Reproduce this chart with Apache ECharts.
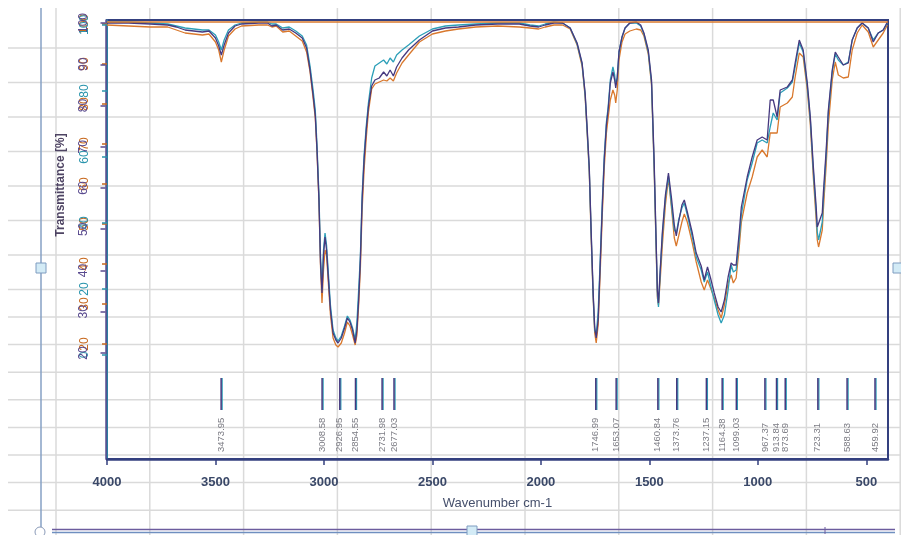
<!DOCTYPE html>
<html>
<head>
<meta charset="utf-8">
<title>FTIR spectrum</title>
<script src="https://cdn.jsdelivr.net/npm/echarts@6/dist/echarts.min.js"></script>
<style>
html, body { margin: 0; padding: 0; background: #fff; }
#chart { width: 901px; height: 535px; }
</style>
</head>
<body>
<div id="chart"></div>
<script>
// spectra (wavenumber in cm-1, transmittance in %)
var wavenumbers = [
    4000, 3900, 3800, 3720, 3680, 3640, 3600, 3560, 3530, 3500,
    3485, 3473, 3460, 3440, 3410, 3380, 3300, 3260, 3240, 3220,
    3190, 3160, 3130, 3100, 3080, 3064, 3050, 3040, 3032, 3023,
    3016, 3009, 3002, 2995, 2988, 2980, 2970, 2958, 2945, 2935,
    2920, 2905, 2892, 2880, 2868, 2856, 2848, 2840, 2832, 2824,
    2815, 2805, 2795, 2780, 2765, 2745, 2725, 2710, 2695, 2680,
    2665, 2640, 2610, 2560, 2500, 2440, 2380, 2300, 2200, 2100,
    2050, 2010, 1980, 1940, 1900, 1865, 1833, 1810, 1796, 1787,
    1777, 1768, 1759, 1752, 1745, 1736, 1727, 1717, 1708, 1698,
    1690, 1680, 1668, 1660, 1655, 1648, 1640, 1626, 1612, 1590,
    1560, 1540, 1525, 1505, 1490, 1478, 1470, 1463, 1458, 1450,
    1440, 1426, 1412, 1398, 1385, 1376, 1365, 1350, 1339, 1325,
    1302, 1284, 1261, 1247, 1232, 1218, 1201, 1183, 1169, 1154,
    1137, 1123, 1113, 1100, 1086, 1076, 1049, 1026, 1003, 980,
    957, 943, 929, 911, 897, 864, 841, 828, 809, 791,
    772, 758, 744, 731, 726, 720, 703, 698, 685, 675,
    657, 643, 629, 606, 583, 565, 542, 519, 491, 468,
    445, 422, 403
];
var purpleT = [
    100.25, 100.25, 100, 99.75, 99.25, 98.5, 98.25, 98, 98.25, 96.5,
    94.5, 92.25, 94.75, 97.75, 99.5, 100, 100.25, 100.25, 99.5, 99.75,
    98.5, 98.75, 97.75, 96.5, 94, 88.5, 82.25, 77.25, 68.5, 56,
    40.5, 32.75, 42.25, 46.75, 43.5, 36.75, 28.5, 22.75, 21, 20.25,
    21.5, 24, 26.5, 25.5, 23.5, 20.25, 23.5, 31, 41, 56,
    66, 73.5, 79.25, 84.5, 86, 86.5, 88, 87, 88.5, 87,
    89.25, 91.5, 93.5, 96, 98.25, 99, 99.25, 99.75, 100, 100,
    99.5, 99.25, 99.75, 100.25, 100.25, 99, 95.25, 90.25, 82.75, 74.25,
    64.25, 47.75, 32.75, 24.25, 21.5, 26, 39.25, 54.25, 66, 74.75,
    78.5, 85.25, 88, 86, 84, 86.75, 93, 96.75, 99, 100.25,
    100.5, 99.75, 97.75, 93.5, 86, 66, 48.5, 33.5, 30.25, 38.5,
    48, 57.25, 62.75, 56.5, 49.75, 47, 50.5, 54.75, 56, 53,
    47.75, 42.75, 39.5, 36, 39.25, 36.5, 32.75, 29.25, 28, 31,
    36.75, 40.25, 39.75, 39.75, 47.75, 54.25, 61.75, 66.75, 71, 71.75,
    71, 81, 81, 76.75, 83.5, 84.25, 86, 90.25, 96, 93.5,
    85.25, 76.75, 64.25, 54.25, 49.25, 49, 52.75, 57.75, 68.5, 78.5,
    88.5, 93, 91.75, 89.75, 90.25, 96, 99, 100.25, 99, 95.5,
    97.75, 98.5, 100.5
];
var tealT = [
    100.5, 100.5, 100.25, 100, 99.5, 99, 98.75, 98.5, 98.5, 97.25,
    95.5, 93.5, 96, 98.5, 99.75, 100.25, 100.5, 100.5, 100, 100,
    99, 99.25, 98.25, 97, 94.75, 89.5, 83.5, 78.5, 69.75, 57.25,
    42.25, 33.5, 43.5, 47.75, 44.75, 38, 29.75, 23.5, 21.5, 20.75,
    22, 24.5, 27, 26, 24, 21, 25.5, 33.5, 42.25, 57.25,
    67.25, 74.5, 80.25, 86.5, 89.5, 90.25, 91, 90, 91.5, 90.5,
    92.25, 93.5, 94.75, 97, 98.75, 99.5, 99.75, 100, 100.25, 100.25,
    99.75, 99.5, 100, 100.5, 100.25, 99, 95, 90, 82.25, 73.5,
    63.5, 47.25, 32, 23.5, 22.25, 28, 40.5, 55.5, 67, 75.5,
    79.25, 86, 89.25, 87.25, 84.75, 86.5, 93, 96.75, 99, 100.25,
    100.25, 99.5, 97.5, 93, 85.25, 64.75, 47.25, 32.25, 29.25, 38,
    47.25, 56.5, 62, 54.75, 48.5, 47.75, 51, 54, 55.25, 52.25,
    46.75, 41.75, 38.5, 35.5, 38, 34.75, 31, 27.25, 25.25, 27.25,
    33.5, 39.75, 38, 38.5, 46, 52.25, 61, 65.25, 70.25, 71,
    70.25, 74.25, 77.75, 76, 82.75, 84, 85.5, 89.25, 95.25, 93,
    84.5, 76, 63, 52.75, 48, 46, 50.5, 56, 67.25, 77.75,
    88, 92.5, 91, 89.75, 90.5, 96, 99, 100.25, 99, 96,
    97.75, 98.5, 100.25
];
var orangeT = [
    99.75, 99.5, 99.25, 99.25, 98.5, 97.75, 97.5, 97.25, 97.5, 95.5,
    93.5, 90.5, 93.5, 97, 98.75, 99.5, 99.75, 99.75, 99.25, 99.5,
    98, 98.25, 97, 95.75, 93, 88, 81.5, 76.5, 68, 55.5,
    39.75, 30.25, 38.5, 43.5, 42.25, 35.5, 27.25, 21.5, 19.75, 19.25,
    20.25, 22.75, 25.5, 24.5, 22.25, 19.75, 22.25, 29.75, 39, 53.5,
    63.5, 71.5, 78, 83.75, 85, 85.5, 86, 85.75, 86.5, 85.75,
    87.75, 90.25, 92.25, 95.5, 97.5, 98.25, 98.75, 99.25, 99.5, 99.25,
    99, 98.75, 99.25, 99.75, 99.75, 98.75, 94.75, 89.5, 81.75, 73,
    63, 46, 31.5, 22.75, 20.25, 24.75, 37.25, 52.25, 64, 72.75,
    76.5, 81, 83.5, 82.25, 80.25, 83.5, 91, 95.5, 97.5, 98.25,
    98.75, 98.5, 97, 92.5, 84.75, 64, 46.5, 31.5, 29.75, 36,
    44.75, 54.75, 61.5, 54, 46.5, 44.5, 47, 50.5, 52.5, 50.5,
    45.25, 40.5, 35.5, 33.5, 36, 34, 31.5, 28.5, 26.5, 29.75,
    35.25, 37.25, 35.25, 36.5, 44, 50.5, 57.75, 61.75, 66.75, 68.5,
    66.75, 72.75, 72.75, 72.75, 79.25, 80.25, 81.75, 86.75, 92.75, 91.75,
    83.5, 74.75, 61.5, 51, 46, 44.25, 48.5, 53.5, 64.75, 74.75,
    86, 90.5, 87.25, 86.5, 86.75, 93.5, 97.75, 99.75, 98, 94.25,
    96, 97.75, 99.75
];

// peak picking marks
var peakWavenumbers = [3473.95, 3008.58, 2926.95, 2854.55, 2731.98, 2677.03, 1746.99, 1653.07,
    1460.84, 1373.76, 1237.15, 1164.38, 1099.03, 967.37, 913.84, 873.69, 723.31, 588.63, 459.92];
var peakLabels = ['3473.95', '3008.58', '2926.95', '2854.55', '2731.98', '2677.03', '1746.99', '1653.07',
    '1460.84', '1373.76', '1237.15', '1164.38', '1099.03', '967.37', '913.84', '873.69', '723.31', '588.63', '459.92'];

// tick labels
var xTicks = [4000, 3500, 3000, 2500, 2000, 1500, 1000, 500];
var orangeTicks = [20, 30, 40, 50, 60, 70, 80, 90, 100];
var tealTicks = [0, 20, 40, 60, 80, 100];
var purpleTicks = [20, 30, 40, 50, 60, 70, 80, 90, 100];

var ORANGE = '#d9782d', TEAL = '#2c9fb8', PURPLE = '#46397f', NAVY = '#34407f';

function pairs(values) {
    return wavenumbers.map(function (w, i) { return [w, values[i]]; });
}

// sheet grid behind the chart object
var decor = [];
for (var i = 0; i < 10; i++) {
    var gx = 56 + i * 93.8;
    decor.push({ type: 'line', z: -10, silent: true, shape: { x1: gx, y1: 8, x2: gx, y2: 535 }, style: { stroke: '#dadada', lineWidth: 1.5 } });
}
var rowLines = [48, 82.5, 117, 151.5, 186, 220.5, 255, 289.5, 317, 344.6, 372.2, 399.8, 427.4, 455, 482.6, 510.2];
rowLines.forEach(function (gy) {
    decor.push({ type: 'line', z: -10, silent: true, shape: { x1: 8, y1: gy, x2: 901, y2: gy }, style: { stroke: '#dadada', lineWidth: 1.5 } });
});
// selection frame of the embedded object
decor.push(
    { type: 'line', z: 5, silent: true, shape: { x1: 41, y1: 8, x2: 41, y2: 527 }, style: { stroke: '#86a0c4', lineWidth: 1.5 } },
    { type: 'line', z: 5, silent: true, shape: { x1: 52, y1: 529.5, x2: 895, y2: 529.5 }, style: { stroke: '#6c5c9e', lineWidth: 1.5 } },
    { type: 'line', z: 5, silent: true, shape: { x1: 52, y1: 532.5, x2: 895, y2: 532.5 }, style: { stroke: '#6f8fc0', lineWidth: 1.5 } },
    { type: 'line', z: 5, silent: true, shape: { x1: 825, y1: 527, x2: 825, y2: 534 }, style: { stroke: '#6c5c9e', lineWidth: 1 } },
    { type: 'rect', z: 6, silent: true, shape: { x: 36, y: 263, width: 10, height: 10 }, style: { fill: '#d3ebf6', stroke: '#7f9cc0', lineWidth: 1 } },
    { type: 'rect', z: 6, silent: true, shape: { x: 893, y: 263, width: 10, height: 10 }, style: { fill: '#d3ebf6', stroke: '#7f9cc0', lineWidth: 1 } },
    { type: 'rect', z: 6, silent: true, shape: { x: 467, y: 526, width: 10, height: 10 }, style: { fill: '#d3ebf6', stroke: '#7f9cc0', lineWidth: 1 } },
    { type: 'circle', z: 6, silent: true, shape: { cx: 40, cy: 532, r: 5 }, style: { fill: '#ffffff', stroke: '#8a9ab8', lineWidth: 1 } },
    {
        type: 'text', z: 6, silent: true, x: 61, y: 185, rotation: Math.PI / 2,
        style: {
            text: 'Transmittance [%]', fill: '#4e4463', font: 'bold 12px "Liberation Sans", Arial',
            align: 'center', verticalAlign: 'middle', textAlign: 'center', textVerticalAlign: 'middle'
        }
    }
);

function yAxisFor(color, min, max, ticks, offset, showLine) {
    return {
        type: 'value',
        position: 'left',
        offset: offset,
        min: min,
        max: max,
        splitLine: { show: false },
        axisLine: { show: showLine, onZero: false, lineStyle: { color: color, width: 1.5 } },
        axisTick: { show: true, customValues: ticks, length: 5, lineStyle: { color: color, width: 1.5 } },
        axisLabel: {
            customValues: ticks,
            rotate: 90,
            margin: 16,
            color: color,
            fontSize: 12,
            fontFamily: '"Liberation Sans", Arial',
            formatter: function (v) { return String(v); }
        }
    };
}

var myChart = echarts.init(document.getElementById('chart'));

var option = {
    animation: false,
    backgroundColor: '#ffffff',
    graphic: decor,
    grid: {
        left: 107,
        right: 13,
        top: 20,
        bottom: 76,
        show: true,
        borderColor: NAVY,
        borderWidth: 2
    },
    xAxis: {
        type: 'value',
        inverse: true,
        min: 400,
        max: 4000,
        name: 'Wavenumber cm-1',
        nameLocation: 'middle',
        nameGap: 38,
        nameTextStyle: { color: '#46506c', fontSize: 13, fontFamily: '"Liberation Sans", Arial' },
        splitLine: { show: false },
        axisLine: { onZero: false, lineStyle: { color: NAVY, width: 2.5 } },
        axisTick: { customValues: xTicks, length: 6, lineStyle: { color: NAVY, width: 1.5 } },
        axisLabel: {
            customValues: xTicks,
            margin: 17,
            color: '#3a4868',
            fontSize: 13,
            fontWeight: 'bold',
            fontFamily: '"Liberation Sans", Arial',
            formatter: function (v) { return String(v); }
        }
    },
    yAxis: [
        yAxisFor('#c8691e', -8.75, 101, orangeTicks, 0, false),
        yAxisFor('#2b95ad', -31.5, 101.5, tealTicks, 0, true),
        yAxisFor('#5a4b8f', -5.7, 100.73, purpleTicks, 1.5, true)
    ],
    series: [{
        type: 'line',
        yAxisIndex: 0,
        data: pairs(orangeT),
        showSymbol: false,
        silent: true,
        lineStyle: { color: ORANGE, width: 1.3 },
        markLine: {
            silent: true,
            symbol: 'none',
            label: { show: false },
            lineStyle: { color: ORANGE, width: 1.5, type: 'solid' },
            data: [{ yAxis: 100.6 }]
        }
    }, {
        type: 'line',
        yAxisIndex: 0,
        data: pairs(tealT),
        showSymbol: false,
        silent: true,
        lineStyle: { color: TEAL, width: 1.3 }
    }, {
        type: 'line',
        yAxisIndex: 0,
        data: pairs(purpleT),
        showSymbol: false,
        silent: true,
        lineStyle: { color: PURPLE, width: 1.3 }
    }, {
        // peak marks with their wavenumber written under them
        type: 'custom',
        yAxisIndex: 0,
        silent: true,
        clip: false,
        data: peakWavenumbers.map(function (w) { return [w, 0]; }),
        renderItem: function (params, api) {
            var x = api.coord([api.value(0), 0])[0];
            return {
                type: 'group',
                children: [{
                    type: 'line',
                    shape: { x1: x + 1, y1: 378, x2: x + 1, y2: 410 },
                    style: { stroke: TEAL, lineWidth: 1.3 }
                }, {
                    type: 'line',
                    shape: { x1: x, y1: 378, x2: x, y2: 410 },
                    style: { stroke: PURPLE, lineWidth: 1.5 }
                }, {
                    type: 'text',
                    x: x,
                    y: 452,
                    rotation: Math.PI / 2,
                    style: {
                        text: peakLabels[params.dataIndex],
                        fill: '#7c7c84',
                        font: '9.5px "Liberation Sans", Arial',
                        align: 'left',
                        verticalAlign: 'middle',
                        textAlign: 'left',
                        textVerticalAlign: 'middle'
                    }
                }]
            };
        }
    }]
};

myChart.setOption(option);
</script>
</body>
</html>
